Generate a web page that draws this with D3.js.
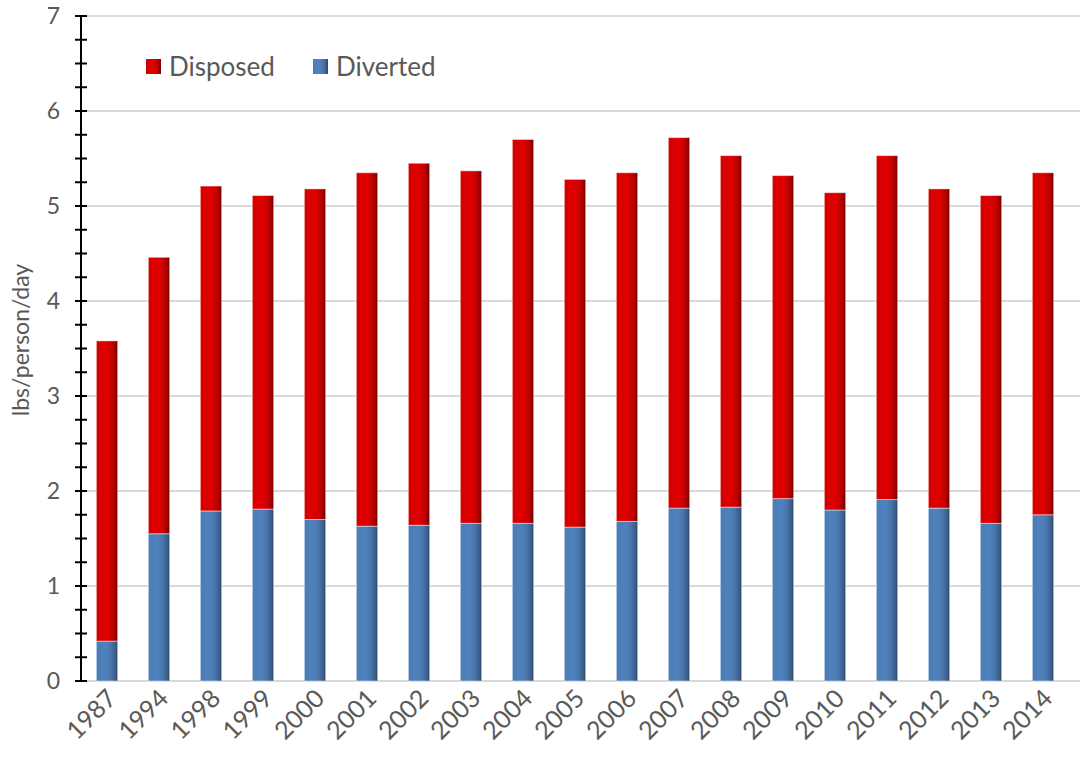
<!DOCTYPE html>
<html>
<head>
<meta charset="utf-8">
<script src="https://cdn.jsdelivr.net/npm/d3@7"></script>
<style>
  html, body { margin: 0; padding: 0; background: #fff; }
  svg { display: block; }
  text { font-family: Lato, "Open Sans", "Liberation Sans", sans-serif; fill: #595959; }
</style>
</head>
<body>
<svg id="chart" width="1081" height="763"></svg>
<script>
const years = ["1987","1994","1998","1999","2000","2001","2002","2003","2004","2005","2006","2007","2008","2009","2010","2011","2012","2013","2014"];
const diverted = [0.42,1.55,1.79,1.81,1.70,1.63,1.64,1.66,1.66,1.62,1.68,1.82,1.83,1.92,1.80,1.91,1.82,1.66,1.75];
const totals =   [3.58,4.46,5.21,5.11,5.18,5.35,5.45,5.37,5.70,5.28,5.35,5.72,5.53,5.32,5.14,5.53,5.18,5.11,5.35];
const disposed = totals.map((t, i) => +(t - diverted[i]).toFixed(2));
const yTicks = [0,1,2,3,4,5,6,7];
const seriesNames = ["Disposed","Diverted"];

const svg = d3.select("#chart");
const mLeft = 81, mRight = 1069, mTop = 16, mBottom = 681;

const x = d3.scaleBand().domain(years).range([mLeft, mRight]).paddingInner(0.59).paddingOuter(0.295);
const y = d3.scaleLinear().domain([0, 7]).range([mBottom, mTop]);

const defs = svg.append("defs");
function grad(id, stops) {
  const g = defs.append("linearGradient").attr("id", id).attr("x1", "0%").attr("x2", "100%").attr("y1", "0%").attr("y2", "0%");
  stops.forEach(s => g.append("stop").attr("offset", s[0]).attr("stop-color", s[1]));
}
grad("gRed", [["0%", "#d30000"], ["45%", "#e00000"], ["70%", "#cc0000"], ["88%", "#a00000"], ["100%", "#700000"]]);
grad("gBlue", [["0%", "#4a7cb8"], ["45%", "#4f81bd"], ["70%", "#4874a9"], ["88%", "#3b5f8a"], ["100%", "#2a4566"]]);

// gridlines
svg.append("g").selectAll("line").data(yTicks).join("line")
  .attr("x1", mLeft).attr("x2", 1080)
  .attr("y1", d => y(d)).attr("y2", d => y(d))
  .attr("stroke", "#d9d9d9").attr("stroke-width", 2);

// bars
const stackData = years.map((yr, i) => ({ year: yr, Diverted: diverted[i], Disposed: disposed[i] }));
const stack = d3.stack().keys(["Diverted", "Disposed"])(stackData);
const fills = { Diverted: "url(#gBlue)", Disposed: "url(#gRed)" };
svg.append("g").selectAll("g").data(stack).join("g")
  .attr("fill", d => fills[d.key])
  .selectAll("rect").data(d => d).join("rect")
  .attr("x", d => x(d.data.year))
  .attr("width", x.bandwidth())
  .attr("y", d => y(d[1]))
  .attr("height", d => y(d[0]) - y(d[1]))
  .attr("stroke", "rgba(255,255,255,0.45)").attr("stroke-width", 1);

// y axis with minor ticks
const minor = d3.range(0, 7.001, 0.25);
const yAxis = d3.axisLeft(y).tickValues(minor).tickSize(0).tickFormat("");
const ag = svg.append("g").attr("transform", `translate(${mLeft},0)`).call(yAxis);
ag.select(".domain").remove();
ag.append("line").attr("x1", 0).attr("x2", 0).attr("y1", mTop).attr("y2", mBottom).attr("stroke", "#000").attr("stroke-width", 2);
ag.selectAll(".mt").data(minor).join("line").attr("class", "mt")
  .attr("x1", -6).attr("x2", 6).attr("y1", d => y(d)).attr("y2", d => y(d))
  .attr("stroke", "#000").attr("stroke-width", 2);

// y tick labels
svg.append("g").selectAll("text").data(yTicks).join("text")
  .attr("x", 60).attr("y", d => y(d)).attr("dy", "0.36em")
  .attr("text-anchor", "end").attr("font-size", 23).text(d => d);

// y label
svg.append("text").attr("transform", `translate(29,340) rotate(-90)`)
  .attr("text-anchor", "middle").attr("font-size", 23).text("lbs/person/day");

// x labels
svg.append("g").selectAll("text").data(years).join("text")
  .attr("transform", d => `translate(${x(d) + x.bandwidth() / 2 + 11},${mBottom + 19}) rotate(-45)`)
  .attr("text-anchor", "end").attr("font-size", 25).text(d => d);

// legend
const legendColors = { Disposed: "url(#gRed)", Diverted: "url(#gBlue)" };
const legendX = [146, 313];
const lg = svg.append("g");
seriesNames.forEach((name, i) => {
  lg.append("rect").attr("x", legendX[i]).attr("y", 59).attr("width", 15).attr("height", 15).attr("fill", legendColors[name]);
  lg.append("text").attr("x", legendX[i] + 23).attr("y", 76).attr("font-size", 26).text(name);
});
</script>
</body>
</html>
